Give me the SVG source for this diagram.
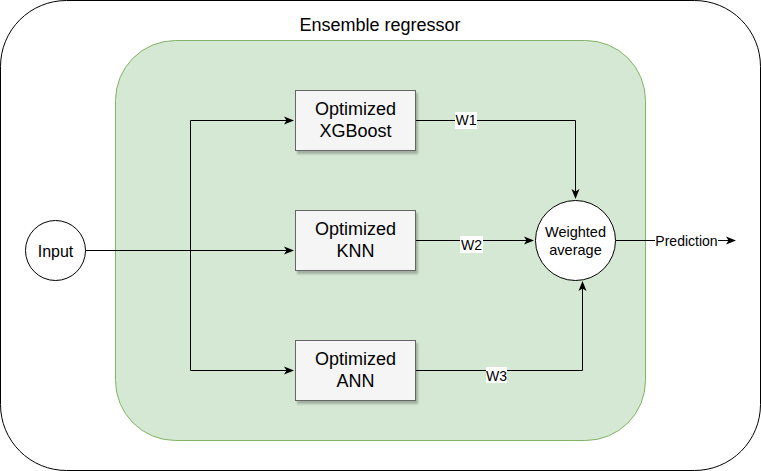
<svg xmlns="http://www.w3.org/2000/svg" width="761" height="471" viewBox="0 0 761 471">
<style>
text{font-family:"Liberation Sans",Arial,Helvetica,sans-serif;fill:#000;text-anchor:middle}
.box{fill:#f5f5f5;stroke:#666666;stroke-width:1}
.circ{fill:#fff;stroke:#000;stroke-width:1}
.edge{fill:none;stroke:#000;stroke-width:1}
.lbl{font-size:14px}
.lblbg{fill:#fff}
.nt{font-size:18px}
</style>
<defs>
<marker id="arr" viewBox="0 0 10 10" refX="9" refY="5" markerWidth="10" markerHeight="10" markerUnits="userSpaceOnUse" orient="auto">
<path d="M0,1 L10,5 L0,9 L2.5,5 Z" fill="#000"/>
</marker>
<filter id="sh" x="-10%" y="-10%" width="130%" height="140%">
<feGaussianBlur in="SourceAlpha" stdDeviation="1.2"/>
<feOffset dx="2" dy="3" result="o"/>
<feComponentTransfer><feFuncA type="linear" slope="0.25"/></feComponentTransfer>
<feMerge><feMergeNode/><feMergeNode in="SourceGraphic"/></feMerge>
</filter>
</defs>
<g id="outer">
<rect x="0.5" y="0.5" width="760" height="470" rx="66" ry="66" fill="#fff" stroke="#000"/>
<text x="380" y="31" style="font-size:18px">Ensemble regressor</text>
</g>
<g id="ensemble">
<rect x="115.5" y="40.5" width="530" height="400" rx="60" ry="60" fill="#d5e8d4" stroke="#82b366"/>
</g>
<g id="connectors">
<path class="edge" d="M85.5,250.5 H293" marker-end="url(#arr)"/>
<path class="edge" d="M190.5,250.5 V120.5 H293" marker-end="url(#arr)"/>
<path class="edge" d="M190.5,250.5 V370.5 H293" marker-end="url(#arr)"/>
<path class="edge" d="M415.5,120.5 H575.5 V198" marker-end="url(#arr)"/>
<path class="edge" d="M415.5,240.5 H533" marker-end="url(#arr)"/>
<path class="edge" d="M415.5,370.5 H582.5 V282" marker-end="url(#arr)"/>
<path class="edge" d="M615.5,240.5 H735" marker-end="url(#arr)"/>
<rect class="lblbg" x="455" y="112" width="22" height="17"/>
<text class="lbl" x="466" y="125">W1</text>
<rect class="lblbg" x="460" y="236" width="23" height="17"/>
<text class="lbl" x="471.5" y="250">W2</text>
<rect class="lblbg" x="486" y="367" width="21" height="16"/>
<text class="lbl" x="496.5" y="380.5">W3</text>
<rect class="lblbg" x="655" y="233" width="63" height="16"/>
<text class="lbl" x="686.5" y="245.5">Prediction</text>
</g>
<g id="input">
<circle class="circ" cx="55.5" cy="250.5" r="30"/>
<text x="55.5" y="256.5" style="font-size:16px">Input</text>
</g>
<g id="xgboost">
<rect class="box" x="295.5" y="90.5" width="120" height="60" filter="url(#sh)"/>
<text class="nt" x="355.5" y="115">Optimized</text>
<text class="nt" x="355.5" y="137">XGBoost</text>
</g>
<g id="knn">
<rect class="box" x="295.5" y="210.5" width="120" height="60" filter="url(#sh)"/>
<text class="nt" x="355.5" y="235">Optimized</text>
<text class="nt" x="355.5" y="257">KNN</text>
</g>
<g id="ann">
<rect class="box" x="295.5" y="340.5" width="120" height="60" filter="url(#sh)"/>
<text class="nt" x="355.5" y="365">Optimized</text>
<text class="nt" x="355.5" y="387">ANN</text>
</g>
<g id="weighted">
<circle class="circ" cx="575.5" cy="240.5" r="40"/>
<text x="575.5" y="237" style="font-size:14.5px">Weighted</text>
<text x="575.5" y="254.5" style="font-size:14.5px">average</text>
</g>
</svg>
